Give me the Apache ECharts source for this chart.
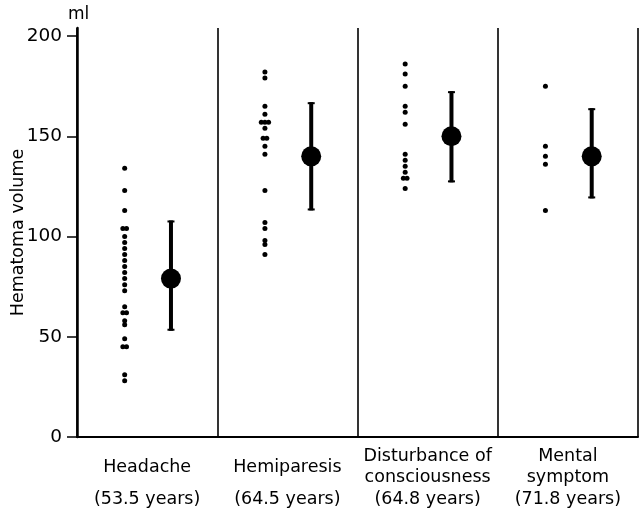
<!DOCTYPE html>
<html>
<head>
<meta charset="utf-8">
<script src="https://cdn.jsdelivr.net/npm/echarts@6/dist/echarts.min.js"></script>
<style>
html,body{margin:0;padding:0;background:#fff;}
#c{width:641px;height:514px;}
</style>
</head>
<body>
<div id="c"></div>
<script>
// ---- data ----
var categories = ['Headache', 'Hemiparesis', 'Disturbance of\nconsciousness', 'Mental\nsymptom'];
var ages = ['(53.5 years)', '(64.5 years)', '(64.8 years)', '(71.8 years)'];
var headacheVals = [134, 123, 113, 104, 104, 100, 97, 94, 91, 88, 85, 82, 79, 76, 73, 65, 62, 62, 58, 56, 49, 45, 45, 31, 28];
var hemiparesisVals = [182, 179, 165, 161, 157, 157, 157, 154, 149, 149, 145, 141, 123, 107, 104, 98, 96, 91];
var disturbanceVals = [186, 181, 175, 165, 162, 156, 141, 138, 135, 132, 129, 129, 124];
var mentalVals = [175, 145, 140, 136, 113];
var meanVals = [79, 140, 150, 140];
var lowVals = [53, 113, 127, 119];
var highVals = [108, 167, 172.5, 164];
var yTicks = [0, 50, 100, 150, 200];

// ---- layout constants ----
var DOT_POS = 0.34, MEAN_POS = 0.67, JITTER = 0.026;

var groups = [headacheVals, hemiparesisVals, disturbanceVals, mentalVals];
var dotData = [];
groups.forEach(function (vals, i) {
  var counts = {};
  vals.forEach(function (v) { counts[v] = (counts[v] || 0) + 1; });
  var seen = {};
  vals.forEach(function (v) {
    var n = counts[v];
    var k = seen[v] || 0;
    seen[v] = k + 1;
    var off = (k - (n - 1) / 2) * JITTER;
    dotData.push([i + DOT_POS + off, v]);
  });
});
var meanData = meanVals.map(function (m, i) { return [i + MEAN_POS, m]; });
var barData = meanVals.map(function (m, i) { return [i + MEAN_POS, lowVals[i], highVals[i]]; });

var FONT = 'DejaVu Sans';
var INK = '#000';
var CAT_FS = 17.5;
var chart = echarts.init(document.getElementById('c'));
chart.setOption({
  animation: false,
  backgroundColor: '#fff',
  title: {
    text: 'ml', left: 63, top: 1,
    textStyle: { fontFamily: FONT, fontSize: 17, fontWeight: 'normal', color: INK }
  },
  grid: { left: 77, right: 3, top: 28, bottom: 77, containLabel: false, outerBoundsMode: 'none' },
  xAxis: {
    type: 'value', min: 0, max: 4, interval: 1,
    axisLine: { show: true, lineStyle: { color: INK, width: 2 } },
    axisTick: { show: false },
    splitLine: { show: true, lineStyle: { color: INK, width: 1.6 } },
    axisLabel: {
      customValues: [0.5, 1.5, 2.5, 3.5],
      margin: 9,
      verticalAlign: 'top',
      formatter: function (v) {
        var i = Math.floor(v);
        var name = categories[i];
        var lines = name.split('\n');
        var s;
        if (lines.length === 1) s = '{one|' + name + '}';
        else s = lines.map(function (l) { return '{two|' + l + '}'; }).join('\n');
        return s + '\n{age|' + ages[i] + '}';
      },
      rich: {
        one: { fontFamily: FONT, fontSize: CAT_FS, lineHeight: 42, color: INK },
        two: { fontFamily: FONT, fontSize: CAT_FS, lineHeight: 21, color: INK },
        age: { fontFamily: FONT, fontSize: CAT_FS, lineHeight: 22, color: INK }
      }
    }
  },
  yAxis: {
    type: 'value', min: 0, max: 204,
    name: 'Hematoma volume', nameLocation: 'middle', nameGap: 50, nameMoveOverlap: false,
    nameTextStyle: { fontFamily: FONT, fontSize: 17.5, color: INK },
    axisLine: { show: true, lineStyle: { color: INK, width: 2.5 } },
    axisTick: { show: true, customValues: yTicks, length: 10, lineStyle: { color: INK, width: 1.5 } },
    axisLabel: { customValues: yTicks, margin: 15, fontFamily: FONT, fontSize: 18.5, color: INK },
    splitLine: { show: false }
  },
  series: [
    {
      type: 'scatter', data: dotData, symbol: 'circle', symbolSize: 5,
      itemStyle: { color: INK, opacity: 1 }, z: 3
    },
    {
      type: 'custom', data: barData, z: 4,
      renderItem: function (params, api) {
        var x = api.value(0);
        var lo = api.coord([x, api.value(1)]);
        var hi = api.coord([x, api.value(2)]);
        return {
          type: 'group',
          children: [
            { type: 'rect', shape: { x: lo[0] - 2, y: hi[1], width: 4, height: lo[1] - hi[1] }, style: { fill: INK } },
            { type: 'rect', shape: { x: lo[0] - 3.5, y: hi[1], width: 7, height: 2 }, style: { fill: INK } },
            { type: 'rect', shape: { x: lo[0] - 3.5, y: lo[1] - 2, width: 7, height: 2 }, style: { fill: INK } }
          ]
        };
      }
    },
    {
      type: 'scatter', data: meanData, symbol: 'circle', symbolSize: 20,
      itemStyle: { color: INK, opacity: 1 }, z: 5
    }
  ]
});
</script>
</body>
</html>
